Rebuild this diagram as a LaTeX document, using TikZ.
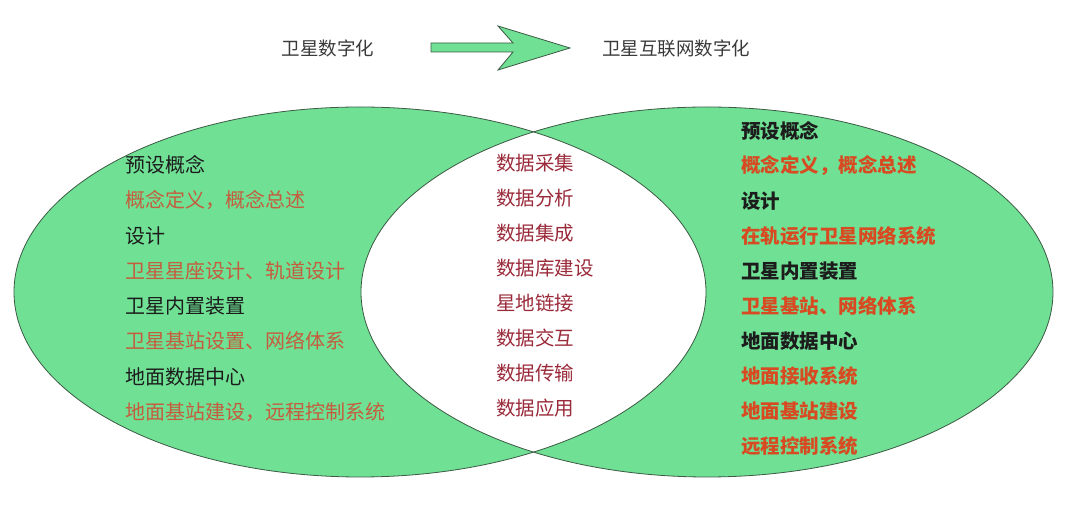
\documentclass[tikz,border=0pt]{standalone}
\usepackage{fontspec}
\usepackage{xcolor}
\newfontfamily\cjk{Noto Sans CJK SC}
\tikzset{
  every orbit/.style={draw=orbitline,line width=0.8pt},
  title/.style={font=\cjk\fontsize{18.5}{18.5}\selectfont,text=titlegray,inner sep=0pt},
  left head/.style={font=\cjk\fontsize{20}{20}\selectfont,text=headblack,inner sep=0pt,anchor=west},
  left item/.style={font=\cjk\fontsize{20}{20}\selectfont,text=leftred,inner sep=0pt,anchor=west},
  mid item/.style={font=\cjk\fontsize{19.5}{19.5}\selectfont,text=midred,inner sep=0pt,anchor=west},
  right head/.style={font=\cjk\bfseries\fontsize{19.5}{19.5}\selectfont,text=headblack,inner sep=0pt,anchor=west},
  right item/.style={font=\cjk\bfseries\fontsize{19.5}{19.5}\selectfont,text=rightred,inner sep=0pt,anchor=west},
}
\definecolor{orbitgreen}{HTML}{6FE094}
\definecolor{orbitline}{HTML}{3C5A44}
\definecolor{titlegray}{HTML}{3A3A3A}
\definecolor{headblack}{HTML}{1C1C1C}
\definecolor{leftred}{HTML}{C65C3E}
\definecolor{midred}{HTML}{9A2A3A}
\definecolor{rightred}{HTML}{D84A22}

\begin{document}
\begin{tikzpicture}[x=1pt,y=1pt]
\useasboundingbox (0,0) rectangle (1080,511);
% two orbits, overlap left white
\fill[orbitgreen,even odd rule] (360,219) ellipse[x radius=346,y radius=185]
  (707,219) ellipse[x radius=346,y radius=185];
\draw[every orbit] (360,219) ellipse[x radius=346,y radius=185];
\draw[every orbit] (707,219) ellipse[x radius=346,y radius=185];
% heading
\node[title] (from) at (328,463) {卫星数字化};
\node[title] (to) at (676,463) {卫星互联网数字化};
\draw[every orbit,fill=orbitgreen] (431,468) -- (513,468) -- (498,485) -- (570,463)
  -- (498,441) -- (513,459) -- (431,459) -- cycle;
% left orbit
\foreach \txt/\sty [count=\i] in {预设概念/head, 概念定义，概念总述/item, 设计/head,
  卫星星座设计、轨道设计/item, 卫星内置装置/head, 卫星基站设置、网络体系/item,
  地面数据中心/head, 地面基站建设，远程控制系统/item}
{
  \node[left \sty] (left-\i) at (125,{346-35.25*(\i-1)}) {\txt};
}
% overlap
\foreach \txt [count=\i] in {数据采集, 数据分析, 数据集成, 数据库建设, 星地链接,
  数据交互, 数据传输, 数据应用}
{
  \node[mid item] (mid-\i) at (496,{348-35*(\i-1)}) {\txt};
}
% right orbit
\foreach \txt/\sty [count=\i] in {预设概念/head, 概念定义，概念总述/item, 设计/head,
  在轨运行卫星网络系统/item, 卫星内置装置/head, 卫星基站、网络体系/item,
  地面数据中心/head, 地面接收系统/item, 地面基站建设/item, 远程控制系统/item}
{
  \node[right \sty] (right-\i) at (741,{380-35*(\i-1)}) {\txt};
}
\end{tikzpicture}
\end{document}
